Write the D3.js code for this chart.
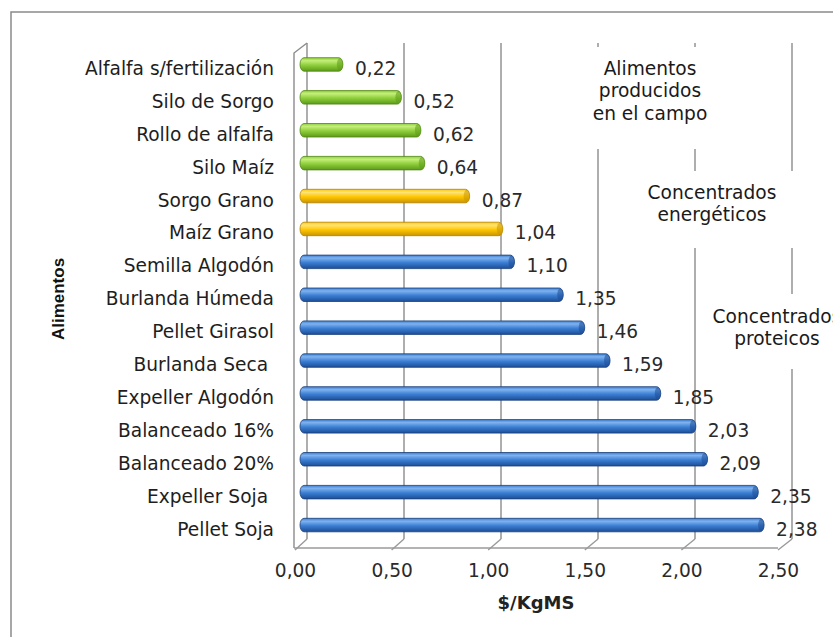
<!DOCTYPE html>
<html>
<head>
<meta charset="utf-8">
<script src="https://cdn.jsdelivr.net/npm/d3@7"></script>
<style>
  body { margin: 0; background: #fff; }
  svg { display: block; font-family: 'DejaVu Sans', Verdana, sans-serif; }
</style>
</head>
<body>
<svg id="chart"></svg>
<script>
const categories = ['Alfalfa s/fertilización', 'Silo de Sorgo', 'Rollo de alfalfa', 'Silo Maíz', 'Sorgo Grano',
  'Maíz Grano', 'Semilla Algodón', 'Burlanda Húmeda', 'Pellet Girasol', 'Burlanda Seca ', 'Expeller Algodón',
  'Balanceado 16%', 'Balanceado 20%', 'Expeller Soja ', 'Pellet Soja'];
const values = [0.22, 0.52, 0.62, 0.64, 0.87, 1.04, 1.10, 1.35, 1.46, 1.59, 1.85, 2.03, 2.09, 2.35, 2.38];
const groups = ['campo', 'campo', 'campo', 'campo', 'energia', 'energia',
  'proteina', 'proteina', 'proteina', 'proteina', 'proteina', 'proteina', 'proteina', 'proteina', 'proteina'];
const xTicks = [0, 0.5, 1, 1.5, 2, 2.5];
const notes = [
  { lines: ['Alimentos', 'producidos', 'en el campo'], x: 650, y: 68, box: [586, 47, 120, 102] },
  { lines: ['Concentrados', 'energéticos'], x: 712, y: 192, box: [640, 171, 160, 77] },
  { lines: ['Concentrados', 'proteicos'], x: 777, y: 316, box: [700, 294, 140, 75] }
];

const width = 833, height = 637;
const floorFront = 548, floorBack = 539, wallTop = 43;
const fontSize = 18.6;

const svg = d3.select('#chart').attr('width', width).attr('height', height);

// gradients for the 3d bars
const colors = {
  campo: { light: '#c4ee7a', mid: '#8fcf3c', dark: '#5c9a18', line: '#4f8612' },
  energia: { light: '#ffe57a', mid: '#ffc600', dark: '#c99500', line: '#b08200' },
  proteina: { light: '#80b2ee', mid: '#3b7fd4', dark: '#1d4d96', line: '#1b3f78' }
};
const defs = svg.append('defs');
Object.entries(colors).forEach(([k, c]) => {
  const g = defs.append('linearGradient').attr('id', 'g-' + k)
    .attr('x1', 0).attr('y1', 0).attr('x2', 0).attr('y2', 1);
  g.append('stop').attr('offset', '0%').attr('stop-color', c.mid);
  g.append('stop').attr('offset', '22%').attr('stop-color', c.light);
  g.append('stop').attr('offset', '55%').attr('stop-color', c.mid);
  g.append('stop').attr('offset', '100%').attr('stop-color', c.dark);
});

const xBar = d3.scaleLinear().domain([0, 2.5]).range([300, 787.5]);
const xBack = d3.scaleLinear().domain([0, 2.5]).range([307, 792]);
const xFront = d3.scaleLinear().domain([0, 2.5]).range([295, 778]);
const yScale = d3.scalePoint().domain(categories).range([48, 541.5]).padding(0.5);

// outer frame
svg.append('path')
  .attr('d', `M11,${height + 2} L11,12 L${width + 2},12`)
  .attr('fill', 'none').attr('stroke', '#8a8a8a').attr('stroke-width', 1.5);

// back wall gridlines
svg.selectAll('.grid')
  .data(xTicks)
  .enter().append('line')
  .attr('class', 'grid')
  .attr('x1', d => xBack(d)).attr('x2', d => xBack(d))
  .attr('y1', wallTop).attr('y2', floorBack)
  .attr('stroke', '#8c8c8c').attr('stroke-width', 1.4);

// left wall
svg.append('path')
  .attr('d', `M${xFront(0) - 1},${floorFront} L${xFront(0) - 1},${wallTop + 10} L${xBack(0)},${wallTop}`)
  .attr('fill', 'none').attr('stroke', '#8c8c8c').attr('stroke-width', 1.4);

// floor
svg.append('line')
  .attr('x1', xFront(0) - 1).attr('x2', xFront(2.5))
  .attr('y1', floorFront).attr('y2', floorFront)
  .attr('stroke', '#9a9a9a').attr('stroke-width', 1.4);
svg.selectAll('.floor')
  .data(xTicks)
  .enter().append('line')
  .attr('class', 'floor')
  .attr('x1', d => xFront(d)).attr('x2', d => xBack(d))
  .attr('y1', floorFront + 2).attr('y2', floorBack)
  .attr('stroke', '#9a9a9a').attr('stroke-width', 1.4);

// white boxes behind the annotations
svg.selectAll('.notebox')
  .data(notes)
  .enter().append('rect')
  .attr('class', 'notebox')
  .attr('x', d => d.box[0]).attr('y', d => d.box[1])
  .attr('width', d => d.box[2]).attr('height', d => d.box[3])
  .attr('fill', '#fff');

// bars
const barH = 13.5;
const bars = svg.selectAll('.bar')
  .data(values)
  .enter().append('g')
  .attr('class', 'bar');

bars.append('rect')
  .attr('x', xBar(0))
  .attr('y', (d, i) => yScale(categories[i]) - barH / 2)
  .attr('width', d => xBar(d) - xBar(0))
  .attr('height', barH)
  .attr('rx', 4).attr('ry', barH / 2)
  .attr('fill', (d, i) => `url(#g-${groups[i]})`)
  .attr('stroke', (d, i) => colors[groups[i]].line)
  .attr('stroke-width', 0.8);

bars.append('ellipse')
  .attr('cx', d => xBar(d) - 3)
  .attr('cy', (d, i) => yScale(categories[i]))
  .attr('rx', 3).attr('ry', barH / 2 - 0.5)
  .attr('fill', (d, i) => colors[groups[i]].dark)
  .attr('opacity', 0.55);

bars.append('text')
  .attr('x', d => xBar(d) + 12)
  .attr('y', (d, i) => yScale(categories[i]) + 4)
  .attr('dy', '0.35em')
  .attr('font-size', fontSize)
  .attr('fill', '#2a2a2a')
  .text(d => d3.format('.2f')(d).replace('.', ','));

// category axis
const yAxis = svg.append('g')
  .attr('transform', `translate(${xFront(0)}, 4)`)
  .call(d3.axisLeft(yScale).tickSize(0).tickPadding(21));
yAxis.select('.domain').remove();
yAxis.selectAll('text')
  .attr('font-size', fontSize).attr('font-family', "'DejaVu Sans', Verdana, sans-serif")
  .attr('fill', '#1e1e1e').style('white-space', 'pre');

// value axis labels
const xAxis = svg.append('g')
  .attr('transform', `translate(0, ${floorFront + 10})`)
  .call(d3.axisBottom(xFront).tickValues(xTicks).tickSize(0).tickPadding(6)
    .tickFormat(d => d3.format('.2f')(d).replace('.', ',')));
xAxis.select('.domain').remove();
xAxis.selectAll('text')
  .attr('font-size', fontSize).attr('font-family', "'DejaVu Sans', Verdana, sans-serif")
  .attr('fill', '#2a2a2a');

// annotations
notes.forEach(n => {
  svg.append('text')
    .attr('text-anchor', 'middle')
    .attr('font-size', fontSize)
    .attr('fill', '#1a1a1a')
    .selectAll('tspan')
    .data(n.lines)
    .enter().append('tspan')
    .attr('x', n.x)
    .attr('y', (d, i) => n.y + i * 22.5)
    .attr('dy', '0.35em')
    .text(d => d);
});

// axis titles
svg.append('text')
  .attr('x', 536).attr('y', 603).attr('dy', '0.35em')
  .attr('text-anchor', 'middle')
  .attr('font-size', 18).attr('font-weight', 'bold')
  .attr('fill', '#222')
  .text('$/KgMS');

svg.append('text')
  .attr('transform', 'translate(58, 299) rotate(-90)')
  .attr('dy', '0.35em')
  .attr('text-anchor', 'middle')
  .attr('font-family', "'Liberation Sans', Arial, sans-serif")
  .attr('font-size', 17).attr('font-weight', 'bold')
  .attr('fill', '#111')
  .text('Alimentos');
</script>
</body>
</html>
